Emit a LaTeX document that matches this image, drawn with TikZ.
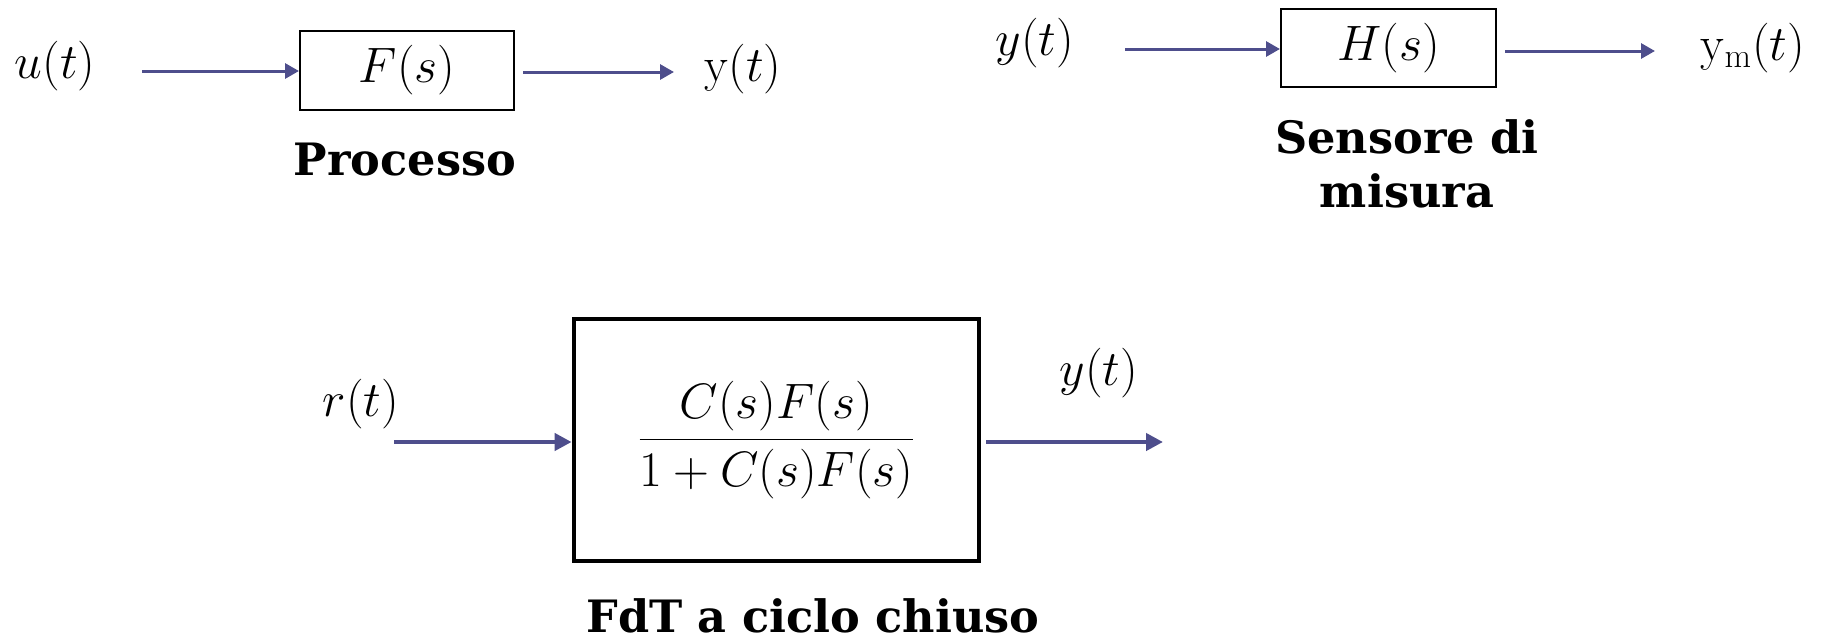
\documentclass[tikz,border=0pt]{standalone}
\usepackage{fontspec}
\newfontfamily\labfont{DejaVu Serif}
\usetikzlibrary{arrows.meta}
\definecolor{arrcol}{RGB}{78,78,140}
\begin{document}
\begin{tikzpicture}[x=0.5pt,y=-0.5pt,
  thinbox/.style={draw=black,line width=1pt,inner sep=0pt,font=\fontsize{23}{27}\selectfont},
  thickbox/.style={draw=black,line width=2.4pt,inner sep=0pt},
  mlab/.style={inner sep=0pt,font=\fontsize{24.5}{28}\selectfont},
  blab/.style={inner sep=0pt,font=\labfont\bfseries\fontsize{22.3}{27}\selectfont,align=center},
  arrA/.style={draw=arrcol,line width=1.5pt,-{Triangle[length=7pt,width=7.5pt]},color=arrcol},
  arrB/.style={draw=arrcol,line width=2.1pt,-{Triangle[length=8.5pt,width=8.5pt]},color=arrcol}]
\useasboundingbox (0,0) rectangle (1828,643);
% --- Processo ---
\node[thinbox,minimum width=107pt,minimum height=39.5pt] (F) at (407,70.5) {$F(s)$};
\node[mlab] (ut) at (55,66) {$u(t)$};
\node[mlab] (yt1) at (743,69) {$\mathrm{y}(t)$};
\node[blab,anchor=base] (proc) at (405,175) {Processo};
\coordinate (a1) at (142,71);
\coordinate (a2e) at (674,72);
\draw[arrA] (a1) -- (a1 -| F.west);
\draw[arrA,shorten <=4pt] (F.east |- a2e) -- (a2e);
% --- Sensore ---
\node[thinbox,minimum width=107.5pt,minimum height=39pt] (H) at (1388.5,48) {$H(s)$};
\node[mlab] (yt2) at (1035,43) {$y(t)$};
\node[mlab] (ym) at (1753,48) {$\mathrm{y}_{\mathrm{m}}(t)$};
\node[blab] (sens) at (1407,164) {Sensore di\\misura};
\coordinate (b1) at (1125,49);
\coordinate (b2e) at (1655,51);
\draw[arrA] (b1) -- (b1 -| H.west);
\draw[arrA,shorten <=4pt] (H.east |- b2e) -- (b2e);
% --- Closed loop ---
\node[thickbox,minimum width=202.5pt,minimum height=121pt] (CL) at (776.5,440)
  {\fontsize{24}{28}\selectfont$\displaystyle\frac{C(s)F(s)}{1+C(s)F(s)}$};
\node[mlab] (rt) at (361,404) {$r(t)$};
\node[mlab] (yt3) at (1099,373) {$y(t)$};
\node[blab,anchor=base] (fdt) at (813,632) {FdT a ciclo chiuso};
\coordinate (c1) at (394,442);
\coordinate (c2e) at (1163,442);
\draw[arrB] (c1) -- (c1 -| CL.west);
\draw[arrB,shorten <=2.5pt] (CL.east |- c2e) -- (c2e);
\end{tikzpicture}
\end{document}
